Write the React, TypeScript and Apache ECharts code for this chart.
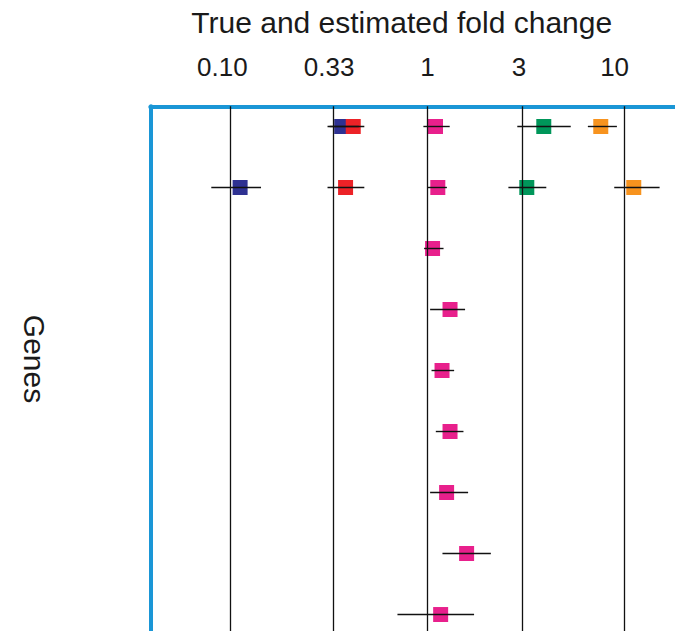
import React, { useEffect, useRef } from "react";
import * as echarts from "echarts";

// Tick values of the (log) fold-change axis and their labels
const tickValues = [0.1, 0.33, 1, 3, 10];
const tickLabels = ["0.10", "0.33", "1", "3", "10"];
// small left shifts of the printed labels (px), as in the original figure
const tickLabelShift = [8, 3.5, 0, 2.5, 10];

// Gene rows (0 = top)
const geneRows = [0, 1, 2, 3, 4, 5, 6, 7, 8];

// Estimated fold change and interval per colour group
const blueRows = [0, 1];
const blueEst = [0.367, 0.112];
const blueLo = [0.319, 0.08];
const blueHi = [0.448, 0.143];

const redRows = [0, 1];
const redEst = [0.42, 0.384];
const redLo = [0.311, 0.311];
const redHi = [0.478, 0.478];

const pinkRows = geneRows;
const pinkEst = [1.098, 1.128, 1.061, 1.301, 1.185, 1.301, 1.25, 1.579, 1.166];
const pinkLo = [0.953, 1.0, 0.961, 1.031, 1.048, 1.102, 1.031, 1.191, 0.704];
const pinkHi = [1.296, 1.254, 1.206, 1.551, 1.365, 1.522, 1.607, 2.096, 1.723];

const greenRows = [0, 1];
const greenEst = [3.89, 3.19];
const greenLo = [2.855, 2.573];
const greenHi = [5.33, 4.006];

const orangeRows = [0, 1];
const orangeEst = [7.57, 11.13];
const orangeLo = [6.51, 8.86];
const orangeHi = [9.14, 15.05];

const FONT = "'Liberation Sans', Arial, Helvetica, sans-serif";
const BLUE_FRAME = "#1a96d6";

export default function App() {
  const ref = useRef<HTMLDivElement>(null);

  useEffect(() => {
    if (!ref.current) return;
    const chart = echarts.init(ref.current, null, { renderer: "svg" });
    const L = Math.log10;

    const groups = [
      { name: "blue", color: "#2e3192", rows: blueRows, est: blueEst, lo: blueLo, hi: blueHi },
      { name: "red", color: "#ec2227", rows: redRows, est: redEst, lo: redLo, hi: redHi },
      { name: "pink", color: "#e8208c", rows: pinkRows, est: pinkEst, lo: pinkLo, hi: pinkHi },
      { name: "green", color: "#00965a", rows: greenRows, est: greenEst, lo: greenLo, hi: greenHi },
      { name: "orange", color: "#f7931e", rows: orangeRows, est: orangeEst, lo: orangeLo, hi: orangeHi },
    ];

    const scatterSeries = groups.map((g, gi) => ({
      type: "scatter",
      name: g.name,
      symbol: "rect",
      symbolSize: 15,
      z: 3 + gi * 0.01,
      itemStyle: { color: g.color, opacity: 1 },
      data: g.rows.map((r, i) => [L(g.est[i]), r]),
    }));

    const errData: number[][] = [];
    groups.forEach((g) => {
      g.rows.forEach((r, i) => errData.push([L(g.lo[i]), L(g.hi[i]), r]));
    });

    const option: any = {
      animation: false,
      grid: { left: 150.3, top: 106.3, right: 0, bottom: 0, containLabel: false },
      xAxis: {
        type: "value",
        position: "top",
        min: -1.4064,
        max: 1.2557,
        axisLine: { show: true, onZero: false, lineStyle: { color: BLUE_FRAME, width: 4 } },
        axisTick: { show: false },
        splitLine: { show: false },
        axisLabel: {
          show: true,
          customValues: tickValues.map((v) => L(v)),
          margin: 26,
          fontSize: 26,
          fontFamily: FONT,
          color: "#1a1a1a",
          formatter: (val: number) => {
            const idx = tickValues.findIndex((v) => Math.abs(L(v) - val) < 1e-6);
            if (idx < 0) return "";
            return `{s${idx}|${tickLabels[idx]}}`;
          },
          rich: Object.fromEntries(
            tickLabelShift.map((s, i) => [
              `s${i}`,
              { fontSize: 26, fontFamily: FONT, color: "#1a1a1a", padding: [0, s * 2, 0, 0] },
            ])
          ),
        },
      },
      yAxis: {
        type: "value",
        inverse: true,
        min: -0.331,
        max: 8.27,
        axisLine: { show: true, onZero: false, lineStyle: { color: BLUE_FRAME, width: 4 } },
        axisTick: { show: false },
        axisLabel: { show: false },
        splitLine: { show: false },
      },
      graphic: [
        {
          type: "text",
          x: 401.7,
          y: 22,
          style: {
            text: "True and estimated fold change",
            fontSize: 30,
            fontFamily: FONT,
            fill: "#1a1a1a",
            textAlign: "center",
            textVerticalAlign: "middle",
          },
        },
        {
          type: "text",
          x: 34,
          y: 359,
          rotation: -Math.PI / 2,
          style: {
            text: "Genes",
            fontSize: 30,
            fontFamily: FONT,
            fill: "#1a1a1a",
            textAlign: "center",
            textVerticalAlign: "middle",
          },
        },
      ],
      series: [
        {
          type: "line",
          name: "ref",
          data: [],
          z: 1,
          markLine: {
            silent: true,
            symbol: ["none", "none"],
            label: { show: false },
            lineStyle: { color: "#111", width: 1.3, type: "solid" },
            data: tickValues.map((v) => ({ xAxis: L(v) })),
          },
        },
        ...scatterSeries,
        {
          type: "custom",
          name: "intervals",
          z: 5,
          encode: { x: [0, 1], y: 2 },
          data: errData,
          renderItem: (params: any, api: any) => {
            const a = api.coord([api.value(0), api.value(2)]);
            const b = api.coord([api.value(1), api.value(2)]);
            return {
              type: "line",
              shape: { x1: a[0], y1: a[1], x2: b[0], y2: b[1] },
              style: { stroke: "#111", lineWidth: 1.4 },
            };
          },
        },
      ],
    };

    chart.setOption(option);
    return () => chart.dispose();
  }, []);

  return (
    <div
      ref={ref}
      style={{ position: "fixed", left: 0, top: 0, width: 675, height: 631, background: "#fff" }}
    />
  );
}
